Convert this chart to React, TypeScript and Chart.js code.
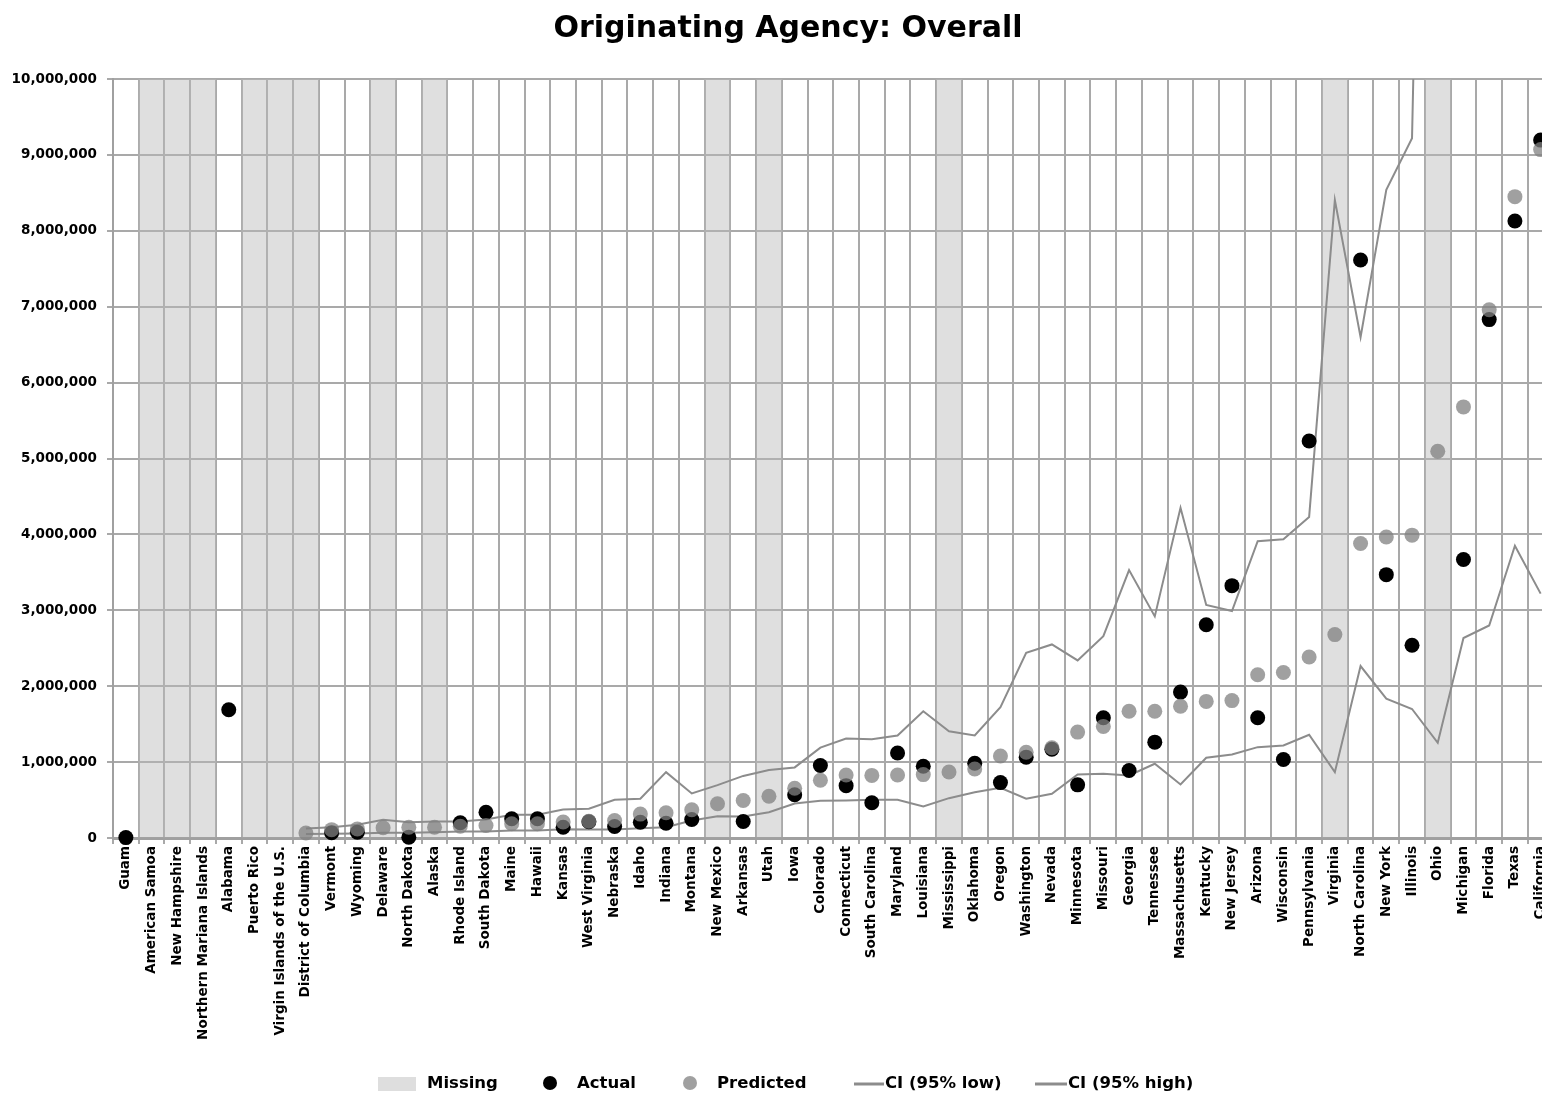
import React, { useEffect, useRef } from "react";
import { Chart, registerables } from "chart.js";

Chart.register(...registerables);

const TITLE = "Originating Agency: Overall";

const categories = [
  "Guam", "American Samoa", "New Hampshire", "Northern Mariana Islands", "Alabama",
  "Puerto Rico", "Virgin Islands of the U.S.", "District of Columbia", "Vermont", "Wyoming",
  "Delaware", "North Dakota", "Alaska", "Rhode Island", "South Dakota",
  "Maine", "Hawaii", "Kansas", "West Virginia", "Nebraska",
  "Idaho", "Indiana", "Montana", "New Mexico", "Arkansas",
  "Utah", "Iowa", "Colorado", "Connecticut", "South Carolina",
  "Maryland", "Louisiana", "Mississippi", "Oklahoma", "Oregon",
  "Washington", "Nevada", "Minnesota", "Missouri", "Georgia",
  "Tennessee", "Massachusetts", "Kentucky", "New Jersey", "Arizona",
  "Wisconsin", "Pennsylvania", "Virginia", "North Carolina", "New York",
  "Illinois", "Ohio", "Michigan", "Florida", "Texas",
  "California",
];

// Grey "Missing" bands (full height) for categories without an actual value
const missing = [
  null, 10000000, 10000000, 10000000, null,
  10000000, 10000000, 10000000, null, null,
  10000000, null, 10000000, null, null,
  null, null, null, null, null,
  null, null, null, 10000000, null,
  10000000, null, null, null, null,
  null, null, 10000000, null, null,
  null, null, null, null, null,
  null, null, null, null, null,
  null, null, 10000000, null, null,
  null, 10000000, null, null, null,
  null,
];

const actual = [
  5000, null, null, null, 1690000,
  null, null, null, 70000, 77000,
  null, 10000, null, 200000, 340000,
  253000, 253000, 142000, 215000, 152000,
  208000, 195000, 244000, null, 218000,
  null, 570000, 955000, 690000, 465000,
  1120000, 945000, null, 985000, 730000,
  1065000, 1170000, 700000, 1585000, 890000,
  1263000, 1922000, 2810000, 3325000, 1585000,
  1035000, 5230000, null, 7615000, 3470000,
  2540000, null, 3670000, 6830000, 8130000,
  9195000,
];

const predicted = [
  null, null, null, null, null,
  null, null, 65000, 110000, 120000,
  135000, 142000, 142000, 155000, 165000,
  187000, 187000, 210000, 220000, 231000,
  315000, 332000, 372000, 451000, 494000,
  551000, 655000, 760000, 830000, 825000,
  830000, 835000, 870000, 910000, 1080000,
  1130000, 1190000, 1395000, 1470000, 1670000,
  1670000, 1735000, 1800000, 1810000, 2150000,
  2180000, 2385000, 2680000, 3880000, 3965000,
  3990000, 5095000, 5680000, 6960000, 8450000,
  9070000,
];

const ciLow = [
  null, null, null, null, null,
  null, null, 53000, 55000, 58000,
  68000, 70000, 77000, 86000, 86000,
  99000, 99000, 115000, 112000, 112000,
  130000, 143000, 231000, 288000, 283000,
  340000, 455000, 490000, 494000, 503000,
  503000, 415000, 525000, 604000, 662000,
  517000, 583000, 837000, 846000, 824000,
  978000, 705000, 1057000, 1100000, 1197000,
  1220000, 1360000, 868000, 2265000, 1835000,
  1700000, 1255000, 2635000, 2800000, 3850000,
  3220000,
];

const ciHigh = [
  null, null, null, null, null,
  null, null, 125000, 142000, 174000,
  240000, 208000, 218000, 218000, 244000,
  306000, 306000, 374000, 385000, 504000,
  517000, 868000, 587000, 696000, 818000,
  895000, 930000, 1190000, 1310000, 1300000,
  1350000, 1670000, 1405000, 1350000, 1725000,
  2440000, 2550000, 2340000, 2660000, 3530000,
  2920000, 4350000, 3070000, 2990000, 3910000,
  3935000, 4230000, 8405000, 6600000, 8540000,
  9220000, 25000000, 14000000, 15000000, 18000000,
  17000000,
];

const Y_MIN = 0;
const Y_MAX = 10000000;
const Y_STEP = 1000000;

const legendLabels = ["Missing", "Actual", "Predicted", "CI (95% low)", "CI (95% high)"];

const FONT = '"DejaVu Sans", "Liberation Sans", sans-serif';
const GRID = "#a9a9a9";
const CI_COLOR = "#8c8c8c";
const PRED_COLOR = "rgba(128,128,128,0.75)";
const MISSING_COLOR = "rgba(185,185,185,0.45)";

const overlayPlugin = {
  id: "overlay",
  afterDraw(chart: any) {
    const ctx = chart.ctx as CanvasRenderingContext2D;
    ctx.save();
    // Title
    ctx.fillStyle = "#000";
    ctx.font = `bold 30px ${FONT}`;
    ctx.textAlign = "center";
    ctx.textBaseline = "alphabetic";
    ctx.fillText(TITLE, 788, 37);

    // Legend
    const cy = 1084;
    ctx.font = `bold 16.5px ${FONT}`;
    ctx.textAlign = "left";
    ctx.textBaseline = "middle";

    // Missing
    ctx.fillStyle = "#dedede";
    ctx.fillRect(378, cy - 7, 38, 14);
    ctx.fillStyle = "#000";
    ctx.fillText(legendLabels[0], 427, cy);

    // Actual
    ctx.beginPath();
    ctx.arc(550, cy - 1, 7, 0, Math.PI * 2);
    ctx.fillStyle = "#000";
    ctx.fill();
    ctx.fillText(legendLabels[1], 577, cy);

    // Predicted
    ctx.beginPath();
    ctx.arc(690, cy - 1, 7, 0, Math.PI * 2);
    ctx.fillStyle = PRED_COLOR;
    ctx.fill();
    ctx.fillStyle = "#000";
    ctx.fillText(legendLabels[2], 717, cy);

    // CI low
    ctx.strokeStyle = CI_COLOR;
    ctx.lineWidth = 3;
    ctx.beginPath();
    ctx.moveTo(854, cy);
    ctx.lineTo(884, cy);
    ctx.stroke();
    ctx.fillText(legendLabels[3], 885, cy);

    // CI high
    ctx.beginPath();
    ctx.moveTo(1035, cy);
    ctx.lineTo(1067, cy);
    ctx.stroke();
    ctx.fillText(legendLabels[4], 1068, cy);
    ctx.restore();
  },
};

export default function App() {
  const canvasRef = useRef<HTMLCanvasElement | null>(null);

  useEffect(() => {
    const canvas = canvasRef.current;
    if (!canvas) return;
    const chart = new Chart(canvas, {
      type: "bar",
      data: {
        labels: categories,
        datasets: [
          {
            type: "line",
            label: "Predicted",
            data: predicted,
            showLine: false,
            pointRadius: 7.5,
            pointBorderWidth: 0,
            pointBackgroundColor: PRED_COLOR,
            pointBorderColor: PRED_COLOR,
            backgroundColor: PRED_COLOR,
            clip: false,
            order: 1,
          } as any,
          {
            type: "line",
            label: "Actual",
            data: actual,
            showLine: false,
            pointRadius: 7.5,
            pointBorderWidth: 0,
            pointBackgroundColor: "#000",
            pointBorderColor: "#000",
            backgroundColor: "#000",
            clip: false,
            order: 2,
          } as any,
          {
            type: "line",
            label: "CI (95% high)",
            data: ciHigh,
            borderColor: CI_COLOR,
            borderWidth: 2,
            pointRadius: 0,
            tension: 0,
            spanGaps: false,
            fill: false,
            order: 3,
          } as any,
          {
            type: "line",
            label: "CI (95% low)",
            data: ciLow,
            borderColor: CI_COLOR,
            borderWidth: 2,
            pointRadius: 0,
            tension: 0,
            spanGaps: false,
            fill: false,
            order: 4,
          } as any,
          {
            type: "bar",
            label: "Missing",
            data: missing,
            backgroundColor: MISSING_COLOR,
            borderWidth: 0,
            barPercentage: 1,
            categoryPercentage: 1,
            order: 5,
          } as any,
        ],
      },
      options: {
        responsive: false,
        animation: false,
        devicePixelRatio: 1,
        layout: { padding: { top: 79, left: 0, right: 0, bottom: 0 } },
        plugins: {
          legend: { display: false },
          title: { display: false },
          tooltip: { enabled: false },
        },
        scales: {
          x: {
            type: "category",
            offset: true,
            grid: {
              offset: true,
              color: GRID,
              lineWidth: 2,
              tickLength: 6,
              drawTicks: true,
            },
            border: { color: "#a0a0a0", width: 3 },
            ticks: {
              autoSkip: false,
              minRotation: 90,
              maxRotation: 90,
              padding: 2,
              color: "#000",
              font: { family: FONT, size: 13.5, weight: "bold" },
            },
            afterFit: (scale: any) => {
              scale.height = 261;
            },
          },
          y: {
            min: Y_MIN,
            max: Y_MAX,
            grid: { color: GRID, lineWidth: 2, tickLength: 6 },
            border: { color: "#a0a0a0", width: 2 },
            ticks: {
              stepSize: Y_STEP,
              padding: 10,
              color: "#000",
              font: { family: FONT, size: 13.5, weight: "bold" },
              callback: (v: any) => Number(v).toLocaleString("en-US"),
            },
            afterFit: (scale: any) => {
              scale.width = 113;
            },
          },
        },
      } as any,
      plugins: [overlayPlugin],
    });
    return () => chart.destroy();
  }, []);

  return (
    <div
      style={{
        position: "fixed",
        left: 0,
        top: 0,
        width: 1542,
        height: 1099,
        overflow: "hidden",
        background: "#fff",
      }}
    >
      <canvas
        ref={canvasRef}
        width={1561}
        height={1099}
        style={{ display: "block", width: 1561, height: 1099 }}
      />
    </div>
  );
}
